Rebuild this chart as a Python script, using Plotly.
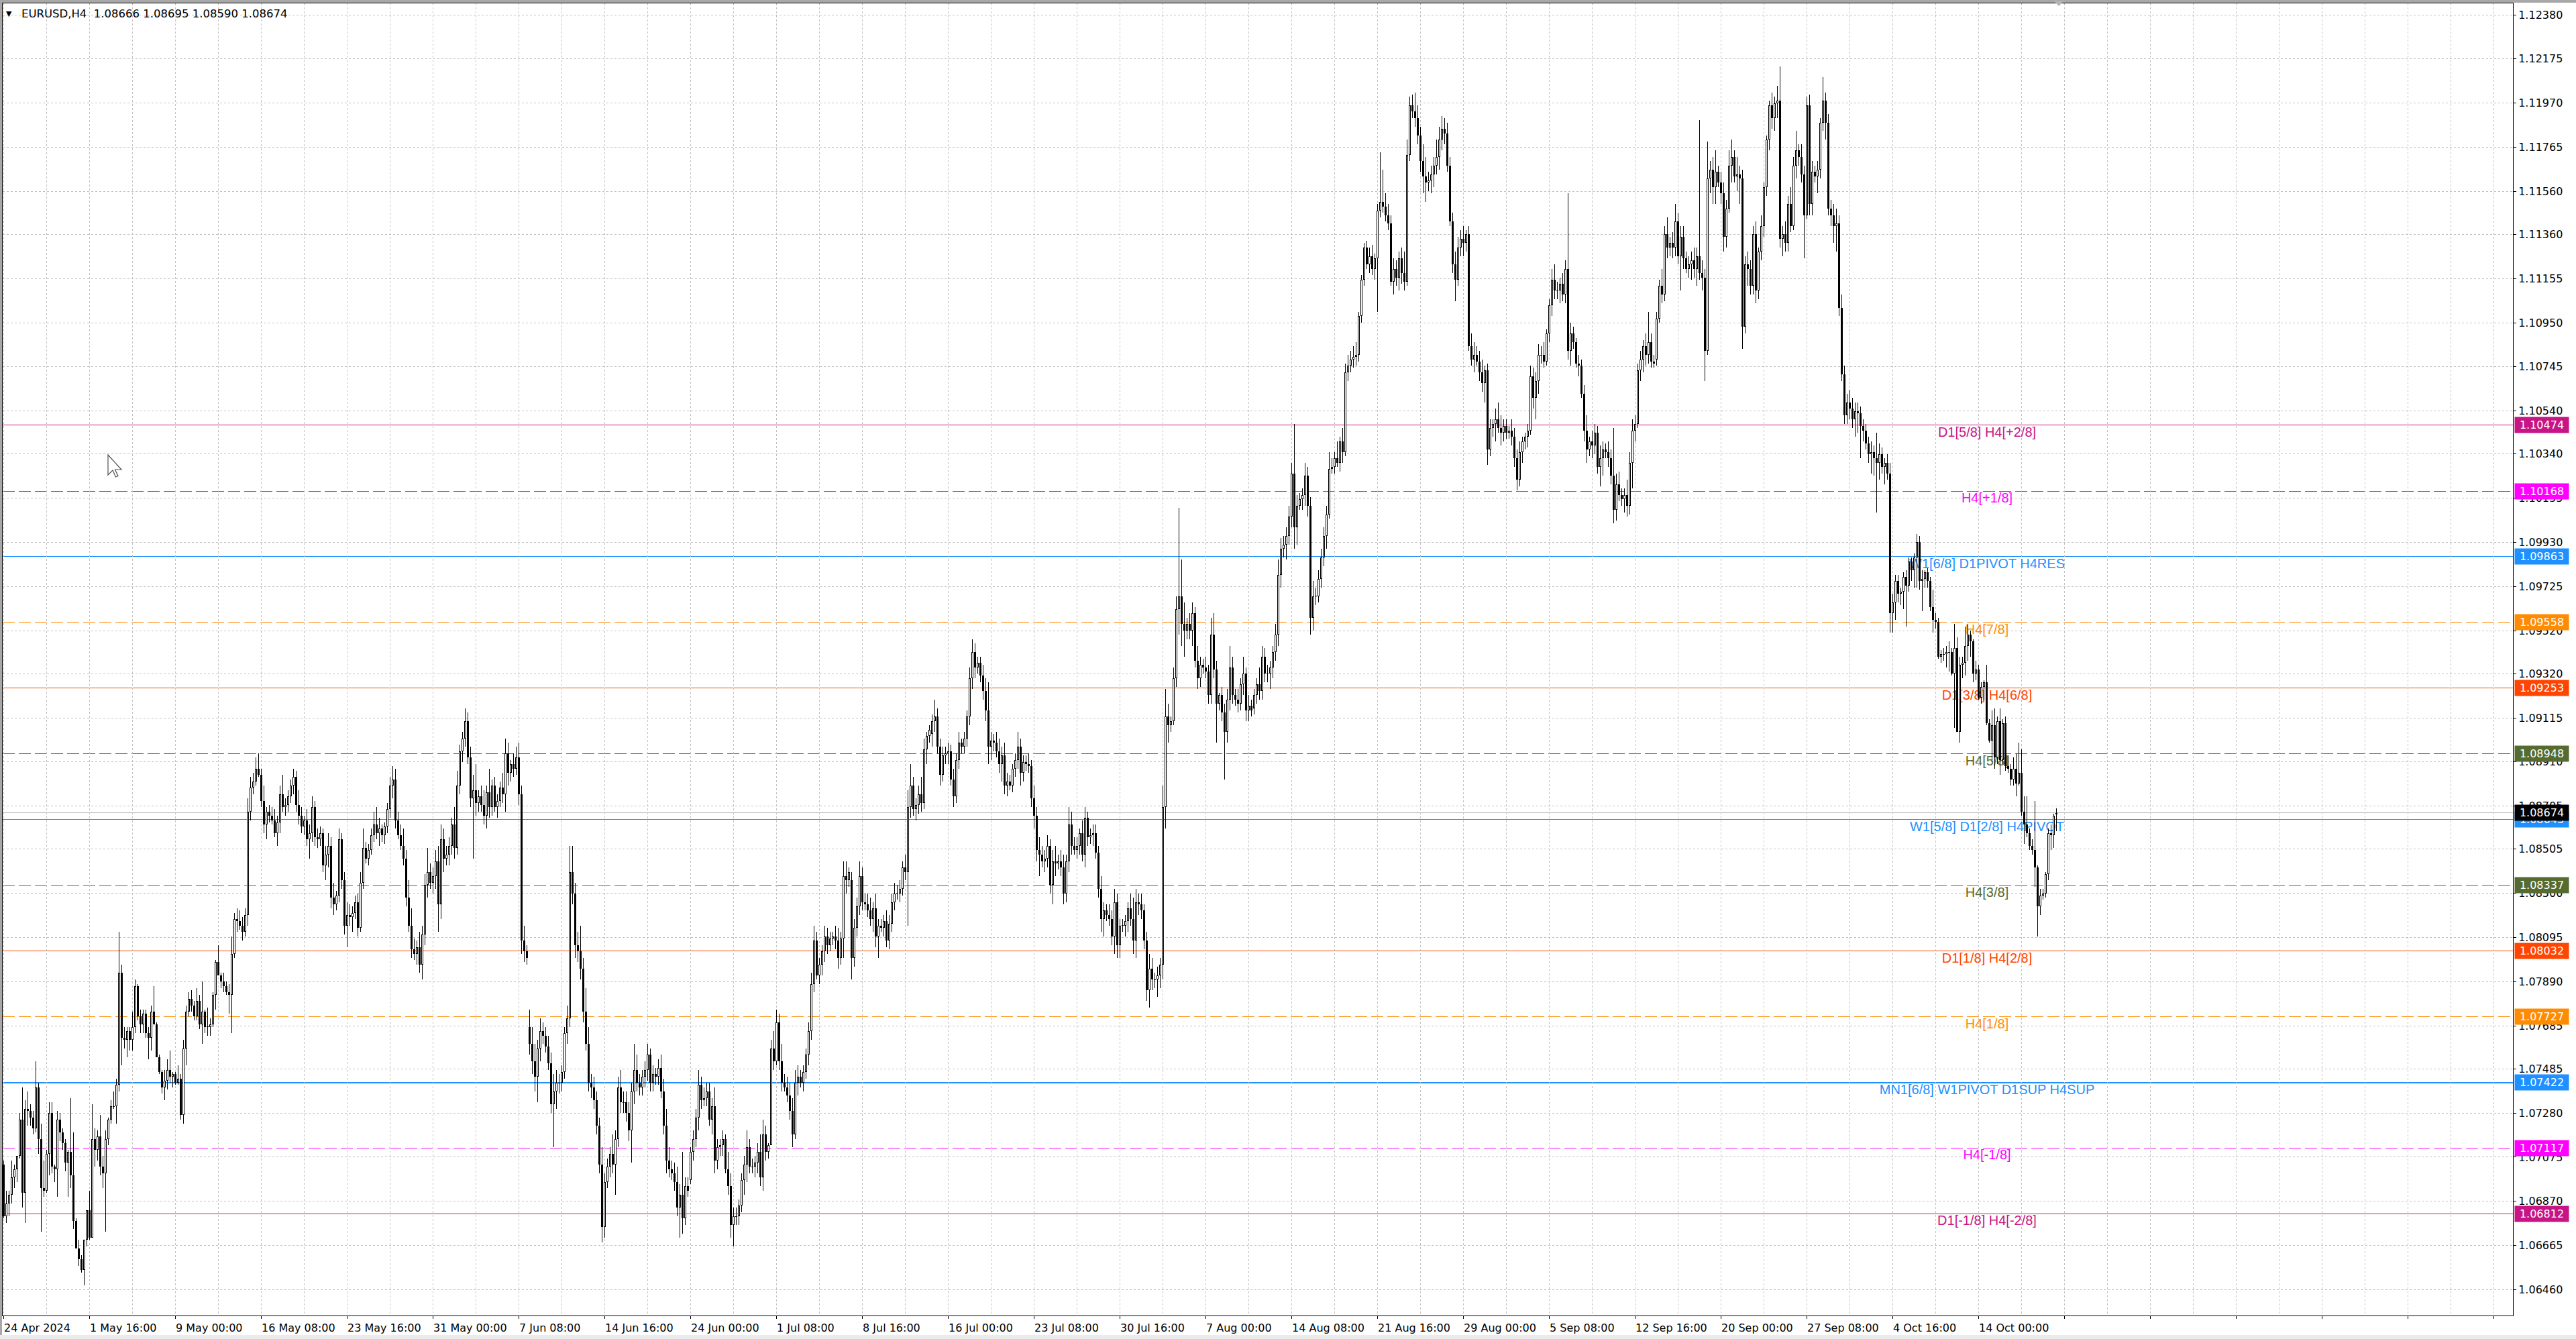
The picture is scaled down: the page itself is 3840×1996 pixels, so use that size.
import plotly.graph_objects as go

# ---------------- DATA: EURUSD H4 bars, in pips above 1.0000 (open, high, low, close) ----------------
APR_2024 = [
    (704,706,679,680),(680,692,677,686),(686,692,680,690),(690,706,686,698),                      # 24 Apr 08-20
    (698,704,693,702),(702,708,696,708),(708,728,707,725),(725,740,684,691),(691,734,677,730),(730,738,722,729),  # 25 Apr
    (729,732,722,726),(726,729,718,721),(721,752,719,740),(740,742,709,716),(716,723,673,693),(693,706,689,692),  # 26 Apr
    (692,711,691,709),(709,733,699,728),(728,733,700,703),(703,704,696,702),(702,729,689,725),(725,728,715,719),  # 29 Apr
    (719,721,711,714),(714,716,701,705),(705,711,689,710),(710,735,693,699),(699,719,674,678),(678,679,665,665),  # 30 Apr
]
MAY_2024 = [
    (665,669,657,660),(660,662,654,655),(655,669,648,669),(669,683,666,683),(683,692,669,670),(670,732,670,716),  # 1 May
    (716,721,703,711),(711,720,706,717),(717,727,699,703),(703,708,693,700),(700,720,673,716),(716,726,713,725),  # 2 May
    (725,734,723,731),(731,738,730,731),(731,744,723,741),(741,812,738,793),(793,797,750,763),(763,768,758,762),  # 3 May
    (762,768,754,766),(766,768,757,762),(762,775,757,768),(768,790,765,787),(787,788,771,773),(773,776,765,769),  # 6 May
    (769,776,765,774),(774,776,763,765),(765,768,753,763),(763,778,757,775),(775,787,769,769),(769,770,754,754),  # 7 May
    (754,755,746,747),(747,748,737,740),(740,748,734,743),(743,753,739,748),(748,757,742,745),(745,747,740,746),  # 8 May
    (746,747,741,742),(742,750,741,744),(744,746,725,727),(727,762,723,758),(758,778,750,775),(775,784,773,781),  # 9 May
    (781,785,775,778),(778,780,771,773),(773,786,771,780),(780,783,767,769),(769,789,760,775),(775,776,765,768),  # 10 May
    (768,777,764,768),(768,772,764,769),(769,784,768,783),(783,799,776,798),(798,806,792,792),(792,793,786,789),  # 13 May
    (789,793,784,787),(787,789,783,784),(784,788,774,783),(783,810,765,802),(802,821,800,818),(818,823,812,817),  # 14 May
    (817,822,813,815),(815,819,808,812),(812,823,810,820),(820,874,815,868),(868,884,864,879),(879,886,876,882),  # 15 May
    (882,893,880,888),(888,895,884,885),(885,888,870,873),(873,880,858,862),(862,870,855,868),(868,871,863,866),  # 16 May
    (866,870,862,864),(864,869,856,858),(858,866,852,863),(863,880,858,876),(876,885,868,870),(870,874,866,871),  # 17 May
    (871,878,868,875),(875,883,872,880),(880,888,876,884),(884,887,868,871),(871,878,862,866),(866,870,858,861),  # 20 May
    (861,866,857,864),(864,869,852,855),(855,862,846,858),(858,875,854,870),(870,873,852,856),(856,860,851,855),  # 21 May
    (855,861,852,858),(858,860,840,843),(843,852,836,848),(848,858,842,852),(852,856,823,828),(828,835,820,825),  # 22 May
    (825,831,822,829),(829,860,826,855),(855,858,832,836),(836,840,811,815),(815,826,805,820),(820,825,815,819),  # 23 May
    (819,824,812,821),(821,829,818,826),(826,830,810,814),(814,840,812,835),(835,860,832,851),(851,854,844,846),  # 24 May
    (846,853,843,850),(850,860,848,857),(857,868,854,862),(862,870,855,858),(858,865,852,860),(860,862,854,857),  # 27 May
    (857,863,853,861),(861,872,858,869),(869,884,865,880),(880,889,874,883),(883,888,860,864),(864,868,855,857),  # 28 May
    (857,862,850,852),(852,860,843,846),(846,850,824,828),(828,836,812,815),(815,823,800,804),(804,809,799,802),  # 29 May
    (802,808,797,805),(805,812,793,797),(797,815,790,811),(811,839,806,834),(834,851,828,840),(840,844,832,835),  # 30 May
    (835,842,830,838),(838,850,832,845),(845,852,812,825),(825,862,818,855),(855,860,840,846),(846,852,843,848),  # 31 May
]
JUN_2024 = [
    (848,856,843,852),(852,865,848,862),(862,870,846,851),(851,887,848,880),(880,899,876,896),(896,905,891,902),  # 3 Jun
    (902,916,898,910),(910,914,890,893),(893,898,870,874),(874,885,846,878),(878,890,866,872),(872,878,868,875),  # 4 Jun
    (875,880,868,871),(871,878,862,866),(866,880,860,877),(877,888,865,870),(870,883,866,880),(880,884,868,870),  # 5 Jun
    (870,876,865,873),(873,882,870,879),(879,886,872,876),(876,902,868,895),(895,900,880,886),(886,892,882,890),  # 6 Jun
    (890,895,884,888),(888,898,885,893),(893,900,871,876),(876,880,802,808),(808,815,798,803),(803,806,797,800),  # 7 Jun
    (768,776,755,760),(760,768,746,752),(752,760,738,745),(745,762,733,758),(758,772,752,766),(766,770,760,764),  # 10 Jun
    (764,768,756,759),(759,764,748,751),(751,756,728,732),(732,746,712,738),(738,748,730,742),(742,746,737,742),  # 11 Jun
    (742,750,738,747),(747,768,744,765),(765,778,760,772),(772,852,768,840),(840,852,825,830),(830,835,800,806),  # 12 Jun
    (806,812,798,803),(803,815,790,795),(795,800,770,775),(775,786,757,760),(760,768,738,742),(742,746,735,740),  # 13 Jun
    (740,745,730,734),(734,738,718,722),(722,726,700,704),(704,712,668,675),(675,700,670,696),(696,707,693,703),  # 14 Jun
    (703,712,698,709),(709,718,700,704),(704,720,690,716),(716,745,712,740),(740,748,728,733),(733,738,728,733),  # 17 Jun
    (733,738,724,728),(728,733,715,720),(720,742,705,738),(738,760,732,748),(748,755,738,742),(742,746,736,740),  # 18 Jun
    (740,748,736,745),(745,752,740,748),(748,760,743,755),(755,758,738,742),(742,750,738,746),(746,749,741,745),  # 19 Jun
    (745,753,741,749),(749,755,735,738),(738,744,718,722),(722,730,700,706),(706,712,698,702),(702,706,697,700),  # 20 Jun
    (700,705,692,696),(696,703,680,684),(684,695,670,690),(690,710,672,679),(679,698,676,694),(694,698,689,692),  # 21 Jun
    (697,712,695,710),(710,720,706,716),(716,730,712,726),(726,748,720,741),(741,745,730,734),(734,740,731,735),  # 24 Jun
    (735,742,731,738),(738,742,722,725),(725,735,718,731),(731,740,700,706),(706,716,702,712),(712,716,708,713),  # 25 Jun
    (713,720,708,716),(716,718,700,702),(702,710,690,694),(694,700,670,676),(676,684,666,680),(680,684,676,680),  # 26 Jun
    (680,688,676,685),(685,700,682,697),(697,708,690,704),(704,720,696,712),(712,716,700,703),(703,707,700,703),  # 27 Jun
    (703,708,698,705),(705,714,700,710),(710,718,694,698),(698,725,692,718),(718,722,706,710),(710,714,707,713),  # 28 Jun
]
JUL_2024 = [
    (713,762,713,758),(758,766,748,752),(752,776,750,770),(770,774,748,752),(752,760,738,742),(742,746,738,740),  # 1 Jul
    (740,745,733,736),(736,742,725,729),(729,735,712,718),(718,748,716,742),(742,750,736,745),(745,748,740,742),  # 2 Jul
    (742,750,738,747),(747,758,744,755),(755,770,750,766),(766,793,762,788),(788,815,784,808),(808,812,790,792),  # 3 Jul
    (792,800,788,797),(797,806,792,803),(803,815,798,810),(810,814,802,806),(806,812,803,809),(809,812,806,810),  # 4 Jul
    (810,815,804,808),(808,814,795,800),(800,812,797,809),(809,845,800,838),(838,845,830,836),(836,842,833,840),  # 5 Jul
    (836,840,790,800),(800,818,796,814),(814,828,810,824),(824,845,820,838),(838,842,822,826),(826,830,822,825),  # 8 Jul
    (825,830,819,822),(822,828,815,818),(818,826,812,823),(823,830,805,810),(810,818,800,815),(815,818,812,814),  # 9 Jul
    (814,820,810,817),(817,822,805,808),(808,820,804,816),(816,830,812,826),(826,835,822,830),(830,834,827,830),  # 10 Jul
    (830,836,826,832),(832,845,829,842),(842,848,836,840),(840,878,815,870),(870,890,865,880),(880,884,866,869),  # 11 Jul
    (869,874,864,871),(871,880,867,876),(876,884,868,872),(872,902,869,897),(897,905,890,903),(903,908,900,906),  # 12 Jul
    (904,913,898,910),(910,920,905,912),(912,916,895,898),(898,902,880,885),(885,898,882,894),(894,898,890,895),  # 15 Jul
    (895,900,890,896),(896,899,880,883),(883,888,870,875),(875,895,872,892),(892,905,888,900),(900,902,895,898),  # 16 Jul
    (898,905,895,902),(902,915,898,912),(912,935,908,930),(930,948,925,942),(942,946,930,935),(935,940,932,937),  # 17 Jul
    (937,940,928,931),(931,936,920,924),(924,930,910,915),(915,928,890,898),(898,905,892,901),(901,904,896,900),  # 18 Jul
    (900,905,893,896),(896,902,886,890),(890,898,882,894),(894,900,876,880),(880,886,875,882),(882,885,878,880),  # 19 Jul
    (880,890,877,888),(888,895,884,892),(892,905,888,898),(898,902,880,886),(886,894,882,891),(891,894,887,890),  # 22 Jul
    (890,895,886,889),(889,892,870,874),(874,880,860,866),(866,870,845,850),(850,856,838,848),(848,852,842,845),  # 23 Jul
    (845,850,840,846),(846,857,842,852),(852,855,830,834),(834,850,825,845),(845,852,838,844),(844,848,841,845),  # 24 Jul
    (845,850,838,842),(842,848,825,830),(830,848,826,845),(845,870,840,862),(862,868,848,852),(852,856,848,850),  # 25 Jul
    (850,856,846,852),(852,860,848,858),(858,864,845,848),(848,870,842,865),(865,868,852,856),(856,860,853,857),  # 26 Jul
    (857,862,852,858),(858,862,846,849),(849,852,828,832),(832,838,812,818),(818,826,810,822),(822,825,817,820),  # 29 Jul
    (820,825,815,818),(818,822,806,810),(810,832,802,826),(826,830,800,806),(806,818,800,815),(815,818,812,815),  # 30 Jul
    (815,820,810,817),(817,826,812,823),(823,830,815,818),(818,828,802,808),(808,832,800,826),(826,830,820,825),  # 31 Jul
]
AUG_2024 = [
    (825,830,818,822),(822,825,804,808),(808,812,780,785),(785,802,777,795),(795,800,785,790),(790,793,786,790),  # 1 Aug
    (790,796,782,792),(792,800,786,797),(797,880,790,870),(870,925,860,912),(912,918,900,908),(908,912,905,910),  # 2 Aug
    (910,935,908,930),(930,968,926,962),(962,1009,950,968),(968,985,945,955),(955,965,940,952),(952,958,948,955),  # 5 Aug
    (955,960,948,952),(952,965,945,960),(960,963,935,938),(938,945,925,930),(930,940,926,936),(936,939,932,935),  # 6 Aug
    (935,940,930,933),(933,936,918,922),(922,958,918,950),(950,960,930,934),(934,938,900,918),(918,923,915,922),  # 7 Aug
    (922,926,910,914),(914,918,883,905),(905,925,900,920),(920,945,915,935),(935,940,918,922),(922,925,917,920),  # 8 Aug
    (920,925,914,918),(918,930,915,927),(927,940,922,932),(932,935,910,915),(915,922,910,917),(917,920,912,915),  # 9 Aug
    (916,925,913,922),(922,930,918,927),(927,935,920,924),(924,945,920,940),(940,944,928,932),(932,936,928,932),  # 12 Aug
    (932,938,925,935),(935,945,930,942),(942,955,938,950),(950,985,945,978),(978,995,972,990),(990,996,986,992),  # 13 Aug
    (992,1000,985,996),(996,1010,992,1005),(1005,1030,1000,1025),(1025,1048,990,1000),(1000,1015,992,1010),(1010,1016,1008,1013),  # 14 Aug
    (1013,1018,1008,1015),(1015,1030,1010,1024),(1024,1028,1005,1010),(1010,1014,950,958),(958,975,952,968),(968,972,964,968),  # 15 Aug
    (968,980,965,976),(976,990,972,986),(986,1000,982,996),(996,1010,990,1006),(1006,1035,1004,1027),(1027,1032,1025,1028),  # 16 Aug
    (1028,1035,1025,1032),(1032,1040,1028,1030),(1030,1042,1026,1040),(1040,1046,1030,1035),(1035,1076,1033,1072),(1072,1080,1068,1075),  # 19 Aug
    (1075,1082,1072,1078),(1078,1084,1074,1079),(1079,1086,1075,1080),(1080,1100,1077,1098),(1098,1117,1095,1115),(1115,1132,1112,1130),  # 20 Aug
    (1130,1133,1120,1122),(1122,1130,1118,1126),(1126,1131,1117,1120),(1120,1127,1115,1125),(1125,1150,1100,1147),(1147,1174,1144,1151),  # 21 Aug
    (1151,1166,1146,1149),(1149,1155,1142,1145),(1145,1150,1138,1141),(1141,1145,1112,1114),(1114,1125,1108,1120),(1120,1124,1112,1116),  # 22 Aug
    (1116,1128,1110,1125),(1125,1130,1113,1118),(1118,1128,1110,1114),(1114,1180,1112,1173),(1173,1200,1170,1196),(1196,1201,1190,1193),  # 23 Aug
    (1193,1202,1186,1190),(1190,1196,1178,1182),(1182,1186,1165,1170),(1170,1178,1155,1163),(1163,1172,1151,1160),(1160,1165,1156,1161),  # 26 Aug
    (1161,1168,1155,1164),(1164,1172,1158,1168),(1168,1180,1164,1172),(1172,1186,1166,1180),(1180,1191,1175,1185),(1185,1190,1178,1183),  # 27 Aug
    (1183,1188,1165,1168),(1168,1172,1140,1142),(1142,1146,1118,1122),(1122,1128,1105,1115),(1115,1135,1112,1130),(1130,1138,1126,1134),  # 28 Aug
    (1134,1140,1126,1132),(1132,1138,1128,1136),(1136,1140,1082,1084),(1084,1090,1075,1078),(1078,1086,1072,1080),(1080,1084,1075,1077),  # 29 Aug
    (1077,1082,1068,1072),(1072,1078,1063,1067),(1067,1075,1058,1073),(1073,1076,1029,1036),(1036,1050,1033,1046),(1046,1050,1042,1048),  # 30 Aug
]
SEP_2024 = [
    (1048,1055,1040,1050),(1050,1058,1044,1046),(1046,1052,1038,1044),(1044,1050,1040,1047),(1047,1050,1041,1044),(1044,1047,1041,1045),  # 2 Sep
    (1045,1050,1038,1042),(1042,1046,1028,1032),(1032,1036,1017,1022),(1022,1040,1019,1035),(1035,1042,1030,1040),(1040,1044,1036,1042),  # 3 Sep
    (1042,1048,1037,1045),(1045,1075,1043,1070),(1070,1074,1055,1060),(1060,1072,1050,1068),(1068,1085,1062,1080),(1080,1084,1076,1080),  # 4 Sep
    (1080,1086,1074,1077),(1077,1092,1075,1090),(1090,1106,1086,1103),(1103,1120,1098,1115),(1115,1122,1106,1110),(1110,1114,1106,1110),  # 5 Sep
    (1110,1116,1104,1113),(1113,1118,1105,1108),(1108,1124,1104,1120),(1120,1155,1078,1082),(1082,1095,1075,1090),(1090,1093,1083,1086),  # 6 Sep
    (1086,1088,1074,1076),(1076,1080,1070,1075),(1075,1078,1060,1062),(1062,1066,1040,1045),(1045,1052,1030,1036),(1036,1042,1033,1040),  # 9 Sep
    (1040,1045,1032,1038),(1038,1048,1034,1044),(1044,1047,1025,1028),(1028,1038,1019,1032),(1032,1040,1024,1036),(1036,1039,1032,1035),  # 10 Sep
    (1035,1040,1028,1032),(1032,1036,1020,1024),(1024,1046,1002,1008),(1008,1025,1003,1020),(1020,1026,1012,1015),(1015,1018,1010,1013),  # 11 Sep
    (1013,1018,1007,1015),(1015,1022,1005,1010),(1010,1035,1006,1030),(1030,1050,1018,1045),(1045,1052,1040,1048),(1048,1076,1046,1073),  # 12 Sep
    (1073,1082,1068,1078),(1078,1087,1072,1084),(1084,1090,1075,1080),(1080,1100,1076,1086),(1086,1090,1074,1077),(1077,1080,1074,1076),  # 13 Sep
    (1078,1100,1075,1097),(1097,1115,1095,1112),(1112,1120,1104,1108),(1108,1140,1105,1136),(1136,1144,1125,1130),(1130,1135,1126,1132),  # 16 Sep
    (1132,1137,1125,1130),(1130,1150,1126,1142),(1142,1146,1122,1126),(1126,1140,1110,1135),(1135,1140,1120,1125),(1125,1128,1118,1120),  # 17 Sep
    (1120,1126,1116,1122),(1122,1128,1115,1124),(1124,1130,1116,1120),(1120,1130,1112,1126),(1126,1189,1115,1118),(1118,1124,1110,1116),  # 18 Sep
    (1116,1120,1068,1082),(1082,1179,1080,1162),(1162,1170,1155,1166),(1166,1172,1150,1158),(1158,1175,1150,1165),(1165,1168,1158,1160),  # 19 Sep
    (1160,1165,1150,1155),(1155,1160,1128,1135),(1135,1152,1130,1148),(1148,1175,1146,1168),(1168,1180,1160,1172),(1172,1175,1160,1163),  # 20 Sep
    (1163,1172,1156,1164),(1164,1168,1150,1162),(1162,1166,1083,1093),(1093,1126,1090,1122),(1122,1128,1112,1120),(1120,1124,1108,1112),  # 23 Sep
    (1112,1140,1108,1136),(1136,1142,1104,1110),(1110,1130,1106,1128),(1128,1145,1124,1140),(1140,1160,1135,1158),(1158,1182,1154,1180),  # 24 Sep
    (1180,1198,1175,1196),(1196,1202,1185,1190),(1190,1200,1184,1197),(1197,1205,1190,1198),(1198,1214,1130,1134),(1134,1140,1126,1136),  # 25 Sep
    (1136,1142,1128,1132),(1132,1154,1128,1150),(1150,1158,1137,1140),(1140,1172,1138,1168),(1168,1184,1162,1175),(1175,1178,1168,1172),  # 26 Sep
    (1172,1178,1160,1164),(1164,1168,1125,1145),(1145,1200,1143,1196),(1196,1201,1145,1150),(1150,1170,1145,1165),(1165,1168,1160,1163),  # 27 Sep
    (1163,1170,1155,1166),(1166,1190,1162,1188),(1188,1209,1184,1198),(1198,1202,1180,1188),(1188,1192,1145,1148),(1148,1152,1140,1145),  # 30 Sep
]
OCT_2024 = [
    (1145,1150,1132,1140),(1140,1148,1128,1141),(1141,1145,1098,1102),(1102,1108,1068,1071),(1071,1075,1048,1052),(1052,1062,1048,1058),  # 1 Oct
    (1058,1064,1050,1055),(1055,1060,1046,1050),(1050,1058,1042,1054),(1054,1058,1044,1053),(1053,1056,1032,1047),(1047,1050,1040,1045),  # 2 Oct
    (1045,1048,1036,1039),(1039,1042,1030,1034),(1034,1040,1025,1035),(1035,1038,1024,1032),(1032,1044,1007,1030),(1030,1039,1022,1034),  # 3 Oct
    (1034,1037,1025,1028),(1028,1032,1020,1030),(1030,1034,1022,1025),(1025,1030,951,960),(960,969,951,965),(965,978,957,975),  # 4 Oct
    (975,978,965,969),(969,972,964,970),(970,979,962,977),(977,980,954,973),(973,986,970,984),(984,986,975,980),  # 7 Oct
    (980,988,972,986),(986,997,972,993),(993,996,971,975),(975,980,961,976),(976,980,972,979),(979,981,972,975),  # 8 Oct
    (975,977,961,963),(963,971,951,957),(957,960,953,956),(956,958,939,940),(940,943,937,941),(941,944,938,941),  # 9 Oct
    (941,945,935,942),(942,947,933,942),(942,944,931,932),(932,955,907,944),(944,949,905,905),(905,940,900,936),  # 10 Oct
    (936,940,930,937),(937,954,931,945),(945,955,938,950),(950,952,940,947),(947,948,928,932),(932,938,929,934),  # 11 Oct
    (934,936,920,921),(921,928,918,926),(926,929,920,928),(928,936,908,909),(909,911,900,901),(901,915,892,908),  # 14 Oct
    (908,916,888,893),(893,912,890,910),(910,916,885,892),(892,911,890,909),(909,912,887,889),(889,894,886,888),  # 15 Oct
    (888,890,880,883),(883,893,880,888),(888,895,875,881),(881,900,880,886),(886,897,866,868),(868,875,853,862),  # 16 Oct
    (862,875,856,858),(858,860,850,852),(852,855,848,850),(850,873,833,842),(842,843,810,824),(824,832,820,829),  # 17 Oct
    (829,832,827,830),(830,840,828,839),(839,860,836,858),(858,862,850,857),(857,867,851,866),(866.6,869.5,859.0,867.4),  # 18 Oct
]

X_TICK_BARS = [0, 32, 64, 96, 128, 160, 192, 224, 256, 288, 320, 352, 384, 416, 448, 480, 512,
               544, 576, 608, 640, 672, 704, 736]
X_TICK_TEXT = ["24 Apr 2024", "1 May 16:00", "9 May 00:00", "16 May 08:00", "23 May 16:00",
               "31 May 00:00", "7 Jun 08:00", "14 Jun 16:00", "24 Jun 00:00", "1 Jul 08:00",
               "8 Jul 16:00", "16 Jul 00:00", "23 Jul 08:00", "30 Jul 16:00", "7 Aug 00:00",
               "14 Aug 08:00", "21 Aug 16:00", "29 Aug 00:00", "5 Sep 08:00", "12 Sep 16:00",
               "20 Sep 00:00", "27 Sep 08:00", "4 Oct 16:00", "14 Oct 00:00"]
Y_TICK_VALUES = [1.12380, 1.12175, 1.11970, 1.11765, 1.11560, 1.11360, 1.11155, 1.10950, 1.10745,
                 1.10540, 1.10340, 1.10135, 1.09930, 1.09725, 1.09520, 1.09320, 1.09115, 1.08910,
                 1.08705, 1.08505, 1.08300, 1.08095, 1.07890, 1.07685, 1.07485, 1.07280, 1.07075,
                 1.06870, 1.06665, 1.06460]

LEVEL_PRICES = [1.10474, 1.10168, 1.09863, 1.09558, 1.09253, 1.08948, 1.08643, 1.08337,
                1.08032, 1.07727, 1.07422, 1.07117, 1.06812]
LEVEL_TEXTS = ["D1[5/8] H4[+2/8]", "H4[+1/8]", "W1[6/8] D1PIVOT H4RES", "H4[7/8]",
               "D1[3/8] H4[6/8]", "H4[5/8]", "W1[5/8] D1[2/8] H4PIVOT", "H4[3/8]",
               "D1[1/8] H4[2/8]", "H4[1/8]", "MN1[6/8] W1PIVOT D1SUP H4SUP", "H4[-1/8]",
               "D1[-1/8] H4[-2/8]"]
LEVEL_COLORS = ["#C71585", "#FF00FF", "#1E90FF", "#FF8C00", "#FF4500", "#556B2F", "#1E90FF",
                "#556B2F", "#FF4500", "#FF8C00", "#1E90FF", "#FF00FF", "#C71585"]
LEVEL_DASHED = [False, True, False, True, False, True, False, True, False, True, False, True, False]
LEVEL_WIDTHS = [1, 1, 1, 1, 1, 1, 1, 1, 1, 1, 2, 1, 1]
LAST_PRICE = 1.08674
HEADER_TEXT = "EURUSD,H4  1.08666 1.08695 1.08590 1.08674"

# ---------------- GEOMETRY / STYLE ----------------
W, H = 3840, 1996
M_L, M_R, M_T, M_B = 4, 94, 5, 35
PLOT_W, PLOT_H = W - M_L - M_R, H - M_T - M_B
BAR_PX = 4.0
FIRST_BAR_PX = 5.5
X_MIN = -(FIRST_BAR_PX - M_L) / BAR_PX
X_MAX = X_MIN + PLOT_W / BAR_PX
PX_PER_UNIT = 32100.0
REF_PRICE, REF_PX = 1.12380, 22.0
Y_MAX = REF_PRICE + (REF_PX - M_T) / PX_PER_UNIT
Y_MIN = Y_MAX - PLOT_H / PX_PER_UNIT
PX = 1.0 / PX_PER_UNIT
LABEL_X = (2962 - FIRST_BAR_PX) / BAR_PX
GRID = "#C0C0C0"
AXFONT = dict(family="DejaVu Sans", size=16, color="black")

bars = APR_2024 + MAY_2024 + JUN_2024 + JUL_2024 + AUG_2024 + SEP_2024 + OCT_2024


def to_price(v):
    return 1.0 + v / 10000.0


O = [to_price(b[0]) for b in bars]
HI = [to_price(b[1]) for b in bars]
LO = [to_price(b[2]) for b in bars]
C = [to_price(b[3]) for b in bars]

wick_x, wick_y, body_x, body_y, bull_x, bull_y = [], [], [], [], [], []
for i in range(len(bars)):
    o, h, l, c = O[i], HI[i], LO[i], C[i]
    wick_x += [i, i, None]
    wick_y += [l, h, None]
    lo, hi = min(o, c), max(o, c)
    if hi - lo < PX:
        mid = (lo + hi) / 2
        lo, hi = mid - PX / 2, mid + PX / 2
    body_x += [i, i, None]
    body_y += [lo, hi, None]
    if c > o and hi - lo > 2 * PX:
        bull_x += [i, i, None]
        bull_y += [lo + PX, hi - PX, None]

fig = go.Figure()
# level captions (drawn under candles)
fig.add_trace(go.Scatter(
    x=[LABEL_X] * len(LEVEL_PRICES), y=[p - 12 * PX for p in LEVEL_PRICES],
    mode="text", text=LEVEL_TEXTS, textposition="middle center",
    textfont=dict(family="Liberation Sans, Arial", size=20, color=LEVEL_COLORS),
    hoverinfo="skip", showlegend=False, cliponaxis=False))
fig.add_trace(go.Scatter(x=wick_x, y=wick_y, mode="lines", line=dict(color="black", width=1),
                         hoverinfo="skip", showlegend=False))
fig.add_trace(go.Scatter(x=body_x, y=body_y, mode="lines", line=dict(color="black", width=3),
                         hoverinfo="skip", showlegend=False))
fig.add_trace(go.Scatter(x=bull_x, y=bull_y, mode="lines", line=dict(color="white", width=1),
                         hoverinfo="skip", showlegend=False))

shapes = []
for p, col, dashed, w in zip(LEVEL_PRICES, LEVEL_COLORS, LEVEL_DASHED, LEVEL_WIDTHS):
    shapes.append(dict(type="line", xref="paper", x0=0, x1=1, yref="y", y0=p, y1=p, layer="between",
                       line=dict(color=col, width=w, dash="18px,6px" if dashed else "solid")))
shapes.append(dict(type="line", xref="paper", x0=0, x1=1, yref="y", y0=LAST_PRICE, y1=LAST_PRICE,
                   layer="between", line=dict(color="#B8B8B8", width=1)))
# window frame bits
shapes.append(dict(type="rect", xref="paper", x0=-0.01, x1=1.05, yref="paper", ysizemode="pixel",
                   yanchor=1, y0=1, y1=8, fillcolor="#A8A8A8", line=dict(width=0), layer="above"))
shapes.append(dict(type="rect", yref="paper", y0=-0.05, y1=1.01, xref="paper", xsizemode="pixel",
                   xanchor=0, x0=-8, x1=-1, fillcolor="#A8A8A8", line=dict(width=0), layer="above"))
shapes.append(dict(type="rect", xref="paper", x0=-0.01, x1=1.05, yref="paper", ysizemode="pixel",
                   yanchor=0, y0=-29, y1=-40, fillcolor="#EBEBEB", line=dict(width=0), layer="above"))
# chart shift marker
shapes.append(dict(type="path", xref="x", xsizemode="pixel", xanchor=(3069 - FIRST_BAR_PX) / BAR_PX,
                   yref="paper", ysizemode="pixel", yanchor=1, path="M -8 4 L 8 4 L 0 -4 Z",
                   fillcolor="#B4B4B4", line=dict(width=0), layer="above"))
# mouse pointer
shapes.append(dict(type="path", xref="x", xsizemode="pixel", xanchor=(161 - FIRST_BAR_PX) / BAR_PX,
                   yref="y", ysizemode="pixel", yanchor=REF_PRICE - (678 - REF_PX) / PX_PER_UNIT,
                   path="M 0 0 L 0 -30 L 7 -23 L 11.5 -33 L 15 -31.5 L 10.5 -22 L 20 -22 Z",
                   fillcolor="white", line=dict(color="#505050", width=1.2), layer="above"))

ann = []
for p, col in zip(LEVEL_PRICES, LEVEL_COLORS):
    ann.append(dict(xref="paper", x=1, xanchor="left", xshift=2, yref="y", y=p, yanchor="middle",
                    text=f"{p:.5f}", showarrow=False, bgcolor=col, width=76, height=19, borderpad=2,
                    align="center", font=dict(family="DejaVu Sans", size=16, color="white")))
ann.append(dict(xref="paper", x=1, xanchor="left", xshift=2, yref="y", y=LAST_PRICE, yanchor="middle",
                text=f"{LAST_PRICE:.5f}", showarrow=False, bgcolor="black", width=76, height=19,
                borderpad=2, align="center", font=dict(family="DejaVu Sans", size=16, color="white")))
for b, t in zip(X_TICK_BARS, X_TICK_TEXT):
    ann.append(dict(xref="x", x=b, xanchor="left", xshift=-2, yref="paper", y=0, yanchor="top",
                    yshift=-7, text=t, showarrow=False, font=AXFONT))
ann.append(dict(xref="paper", x=0, xanchor="left", xshift=26, yref="paper", y=1, yanchor="middle",
                yshift=-15, text=HEADER_TEXT, showarrow=False,
                font=dict(family="DejaVu Sans", size=16.5, color="black")))
ann.append(dict(xref="paper", x=0, xanchor="left", xshift=3, yref="paper", y=1, yanchor="middle",
                yshift=-15, text="▼", showarrow=False, font=dict(family="DejaVu Sans", size=11, color="black")))

fig.update_layout(
    width=W, height=H, margin=dict(l=M_L, r=M_R, t=M_T, b=M_B, pad=0),
    paper_bgcolor="white", plot_bgcolor="white", showlegend=False,
    font=dict(family="DejaVu Sans", size=16, color="black"),
    shapes=shapes, annotations=ann,
    xaxis=dict(range=[X_MIN, X_MAX], autorange=False, automargin=False, zeroline=False,
               tickmode="linear", tick0=0, dtick=32, ticks="outside", ticklen=4, tickcolor="black",
               showticklabels=False, showgrid=True, gridcolor=GRID, griddash="3px,3px", gridwidth=1,
               showline=True, linecolor="black", linewidth=1, mirror=True,
               minor=dict(tick0=0, dtick=16, showgrid=True, gridcolor=GRID, griddash="3px,3px",
                          gridwidth=1, ticks="")),
    yaxis=dict(range=[Y_MIN, Y_MAX], autorange=False, automargin=False, zeroline=False, side="right",
               tickmode="array", tickvals=Y_TICK_VALUES, ticktext=[f"{v:.5f}" for v in Y_TICK_VALUES],
               ticks="outside", ticklen=4, tickcolor="black", tickfont=AXFONT,
               showgrid=True, gridcolor=GRID, griddash="3px,3px", gridwidth=1,
               showline=True, linecolor="black", linewidth=1, mirror=True),
)

CRISP_JS = """
document.body.style.margin='0px';
document.body.style.overflow='hidden';
function crisp(){
  document.querySelectorAll('path.js-line').forEach(function(p){p.style.shapeRendering='crispEdges';});
  document.querySelectorAll('path[data-index]').forEach(function(p){
    var d = p.getAttribute('d') || '';
    if (d.indexOf('Z') < 0 && d.indexOf('z') < 0) { p.style.shapeRendering='crispEdges'; }
  });
}
crisp();
setTimeout(crisp, 50);
"""

fig.write_html("out.html", config={"displayModeBar": False, "responsive": False},
               post_script=CRISP_JS)
